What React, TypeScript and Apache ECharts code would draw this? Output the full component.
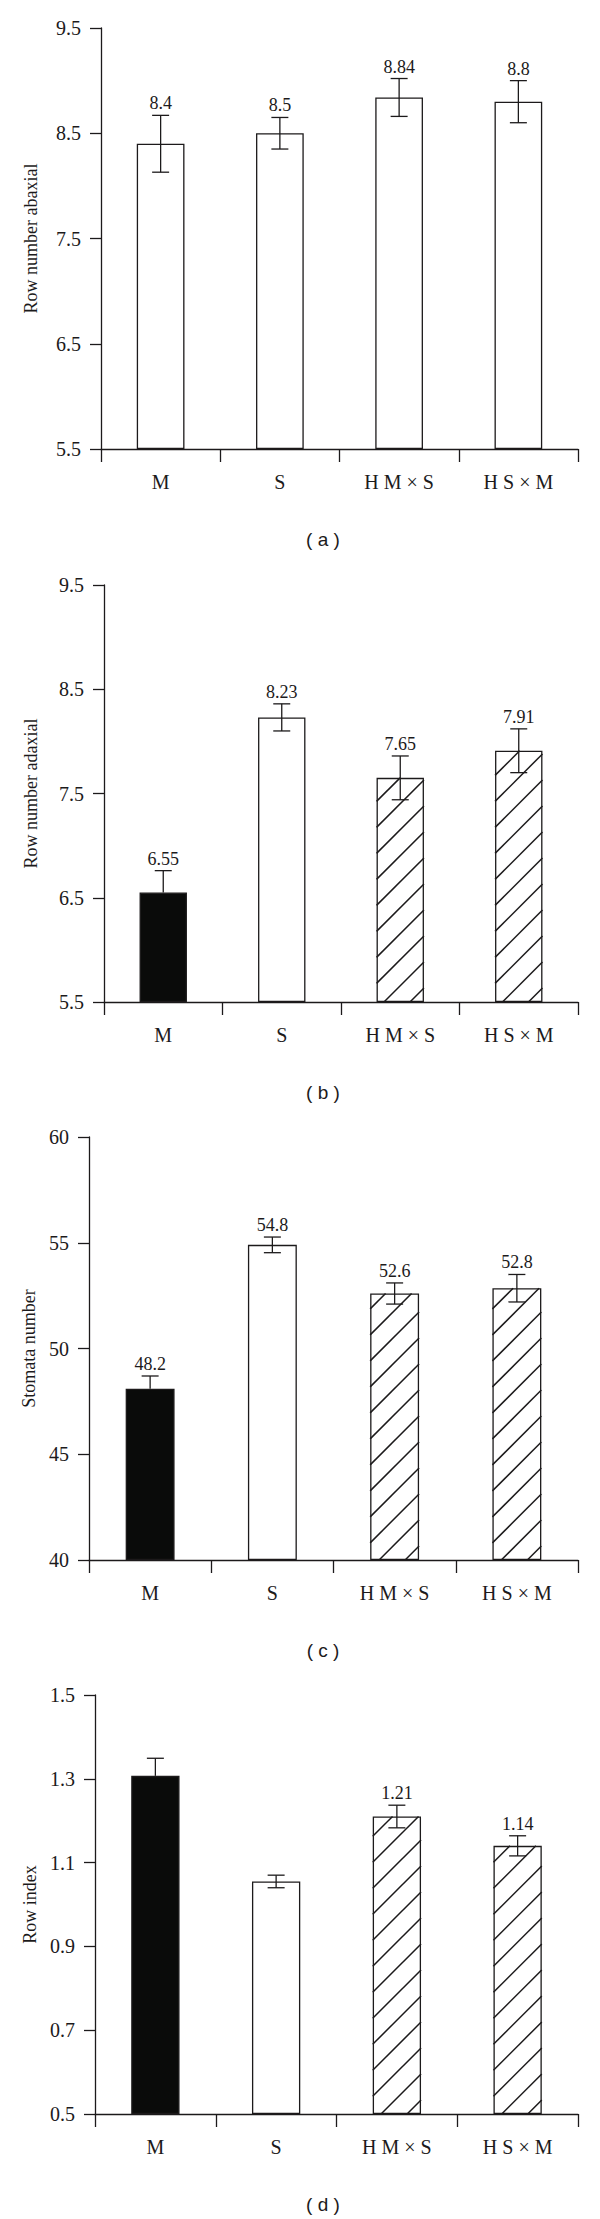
import React, { useEffect, useRef } from "react";
import * as echarts from "echarts";

// ---------- data ----------
const categories = ["M", "S", "H M × S", "H S × M"];

// panel (a) Row number abaxial
const aValues = [8.4, 8.5, 8.84, 8.8];
const aErrors = [0.27, 0.15, 0.18, 0.2];
const aLabels = ["8.4", "8.5", "8.84", "8.8"];
const aFills = ["white", "white", "white", "white"];
const aTicks = ["5.5", "6.5", "7.5", "8.5", "9.5"];

// panel (b) Row number adaxial
const bValues = [6.55, 8.23, 7.65, 7.91];
const bErrors = [0.21, 0.13, 0.21, 0.21];
const bLabels = ["6.55", "8.23", "7.65", "7.91"];
const bFills = ["black", "white", "hatch", "hatch"];
const bTicks = ["5.5", "6.5", "7.5", "8.5", "9.5"];

// panel (c) Stomata number
const cValues = [48.1, 54.9, 52.6, 52.85];
const cErrors = [0.6, 0.37, 0.5, 0.65];
const cLabels = ["48.2", "54.8", "52.6", "52.8"];
const cFills = ["black", "white", "hatch", "hatch"];
const cTicks = ["40", "45", "50", "55", "60"];

// panel (d) Row index
const dValues = [1.307, 1.055, 1.21, 1.14];
const dErrors = [0.042, 0.015, 0.027, 0.024];
const dLabels = ["", "", "1.21", "1.14"];
const dFills = ["black", "white", "hatch", "hatch"];
const dTicks = ["0.5", "0.7", "0.9", "1.1", "1.3", "1.5"];

// ---------- layout ----------
const INK = "#1c1a1b";
const SERIF = "'Liberation Serif', 'Times New Roman', serif";
const SANS = "'Liberation Sans', Arial, sans-serif";

const panels = [
  { name: "Row number abaxial", caption: "( a )", values: aValues, errors: aErrors, labels: aLabels, fills: aFills, ticks: aTicks, min: 5.5, max: 9.5, interval: 1, left: 101, top: 28, height: 421, nameGap: 61 },
  { name: "Row number adaxial", caption: "( b )", values: bValues, errors: bErrors, labels: bLabels, fills: bFills, ticks: bTicks, min: 5.5, max: 9.5, interval: 1, left: 104, top: 585, height: 417, nameGap: 64 },
  { name: "Stomata number", caption: "( c )", values: cValues, errors: cErrors, labels: cLabels, fills: cFills, ticks: cTicks, min: 40, max: 60, interval: 5, left: 89, top: 1137, height: 423, nameGap: 49 },
  { name: "Row index", caption: "( d )", values: dValues, errors: dErrors, labels: dLabels, fills: dFills, ticks: dTicks, min: 0.5, max: 1.5, interval: 0.2, left: 95, top: 1695, height: 419, nameGap: 55 },
];
const RIGHT_END = 578;
const CAPTION_X = 323;
const CAPTION_GAP = 90;

function makeRenderItem(p: any) {
  return (params: any, api: any) => {
    const i = api.value(0);
    const v = api.value(1);
    const err = api.value(2);
    const bandW = api.size([1, 0])[0];
    const barW = bandW * 0.4;
    const top = api.coord([i, v]);
    const base = api.coord([i, 0]);
    const hi = api.coord([i, v + err]);
    const lo = api.coord([i, v - err]);
    const cx = top[0];
    const children: any[] = [];
    const lineStyle = { stroke: INK, lineWidth: 1.3 };
    if (p.fills[i] === "hatch") {
      const x0 = cx - barW / 2;
      const x1 = cx + barW / 2;
      const y0 = top[1];
      const y1 = base[1];
      const step = 26;
      for (let c = x1 + y1 - 14; c > x0 + y0; c -= step) {
        const xs = Math.max(x0, c - y1);
        const xe = Math.min(x1, c - y0);
        if (xe > xs + 0.5) {
          children.push({
            type: "line",
            shape: { x1: xs, y1: c - xs, x2: xe, y2: c - xe },
            style: { stroke: INK, lineWidth: 1.5 },
          });
        }
      }
    }
    const capHalf = 8.5;
    const solid = p.fills[i] === "black";
    const bottomY = solid ? top[1] : lo[1];
    children.push({ type: "line", shape: { x1: cx, y1: hi[1], x2: cx, y2: bottomY }, style: lineStyle });
    children.push({ type: "line", shape: { x1: cx - capHalf, y1: hi[1], x2: cx + capHalf, y2: hi[1] }, style: lineStyle });
    if (!solid) {
      children.push({ type: "line", shape: { x1: cx - capHalf, y1: lo[1], x2: cx + capHalf, y2: lo[1] }, style: lineStyle });
    }
    const label = p.labels[params.dataIndex];
    if (label) {
      children.push({
        type: "text",
        style: {
          text: label,
          x: cx,
          y: hi[1] - 3,
          align: "center",
          verticalAlign: "bottom",
          fontFamily: SERIF,
          fontSize: 18,
          fill: INK,
        },
      });
    }
    return { type: "group", children };
  };
}

export default function App() {
  const ref = useRef<HTMLDivElement>(null);
  useEffect(() => {
    document.body.style.margin = "0";
    if (!ref.current) return;
    const chart = echarts.init(ref.current, undefined, { renderer: "svg" });
    const grid: any[] = [];
    const xAxis: any[] = [];
    const yAxis: any[] = [];
    const series: any[] = [];
    const graphic: any[] = [];
    panels.forEach((p, k) => {
      grid.push({ left: p.left, top: p.top, width: RIGHT_END - p.left, height: p.height, containLabel: false });
      xAxis.push({
        type: "category",
        gridIndex: k,
        data: categories,
        boundaryGap: true,
        axisLine: { show: true, lineStyle: { color: INK, width: 1.3 } },
        axisTick: { show: true, inside: false, length: 13, alignWithLabel: false, lineStyle: { color: INK, width: 1.3 } },
        axisLabel: { color: INK, fontFamily: SERIF, fontSize: 20, margin: 23 },
        splitLine: { show: false },
        z: 5,
      });
      const base = p.min;
      yAxis.push({
        type: "value",
        gridIndex: k,
        min: 0,
        max: +(p.max - p.min).toFixed(6),
        interval: p.interval,
        axisLine: { show: true, lineStyle: { color: INK, width: 1.3 } },
        axisTick: { show: true, inside: false, length: 11, lineStyle: { color: INK, width: 1.3 } },
        splitLine: { show: false },
        axisLabel: {
          color: INK,
          fontFamily: SERIF,
          fontSize: 20,
          margin: 20,
          formatter: (val: number) => {
            const actual = val + base;
            const found = p.ticks.find((t) => Math.abs(parseFloat(t) - actual) < 1e-6);
            return found !== undefined ? found : "";
          },
        },
        name: p.name,
        nameLocation: "middle",
        nameGap: p.nameGap,
        nameTextStyle: { color: INK, fontFamily: SERIF, fontSize: 18 },
        z: 5,
      });
      series.push({
        type: "bar",
        xAxisIndex: k,
        yAxisIndex: k,
        barWidth: "40%",
        z: 2,
        data: p.values.map((v, i) => ({
          value: v - base,
          itemStyle: {
            color: p.fills[i] === "black" ? "#0a0b0a" : "#ffffff",
            borderColor: INK,
            borderWidth: 1.3,
          },
        })),
      });
      series.push({
        type: "custom",
        xAxisIndex: k,
        yAxisIndex: k,
        z: 4,
        renderItem: makeRenderItem(p),
        encode: { x: 0, y: 1 },
        data: p.values.map((v, i) => [i, v - base, p.errors[i]]),
        clip: false,
      });
      graphic.push({
        type: "text",
        x: CAPTION_X,
        y: p.top + p.height + CAPTION_GAP,
        style: {
          text: p.caption,
          align: "center",
          verticalAlign: "middle",
          fontFamily: SANS,
          fontSize: 19,
          fill: INK,
        },
      });
    });
    chart.setOption({
      animation: false,
      backgroundColor: "#ffffff",
      grid,
      xAxis,
      yAxis,
      series,
      graphic,
    });
    return () => chart.dispose();
  }, []);
  return <div ref={ref} style={{ width: 600, height: 2219 }} />;
}
